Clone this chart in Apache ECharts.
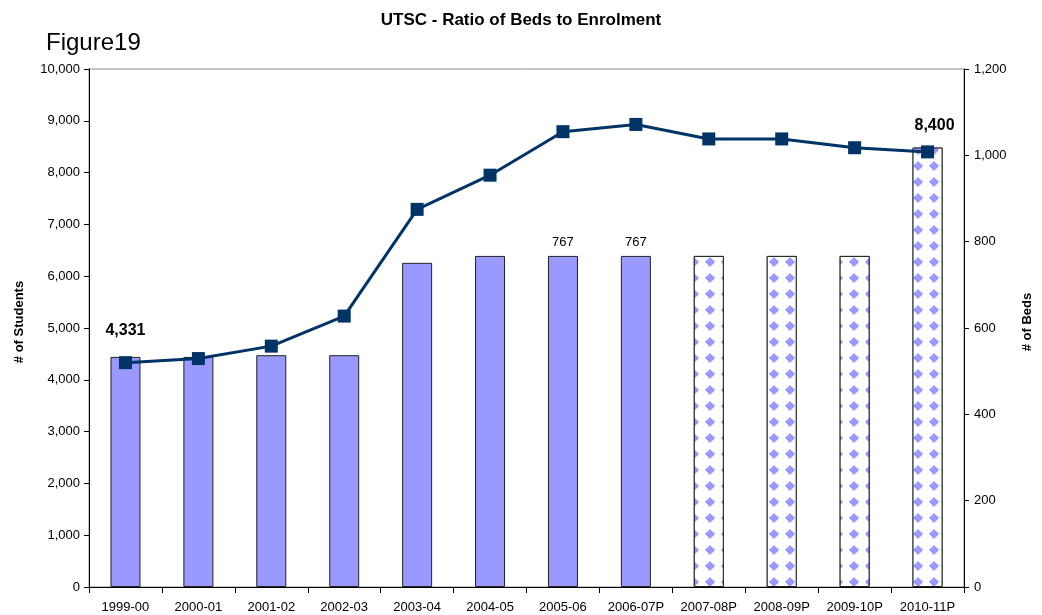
<!DOCTYPE html>
<html>
<head>
<meta charset="utf-8">
<script src="https://cdn.jsdelivr.net/npm/echarts@6/dist/echarts.min.js"></script>
<style>
html, body { margin: 0; padding: 0; background: #fff; }
#main { width: 1042px; height: 615px; }
</style>
</head>
<body>
<div id="main"></div>
<script>
var years = ['1999-00', '2000-01', '2001-02', '2002-03', '2003-04', '2004-05', '2005-06', '2006-07P', '2007-08P', '2008-09P', '2009-10P', '2010-11P'];
// beds (right axis) - actual years solid, projected years patterned
var bedsActual = [533, 533, 537, 537, 751, 767, 767, 767, null, null, null, null];
var bedsProjected = [null, null, null, null, null, null, null, null, 767, 767, 767, 1018];
// enrolment (left axis)
var students = [4331, 4410, 4650, 5230, 7290, 7950, 8790, 8930, 8650, 8650, 8480, 8400];

var font = 'Liberation Sans, Arial, sans-serif';

var actualData = bedsActual.map(function(v, i) {
	if (i === 6 || i === 7) {
		return { value: v, label: { show: true, position: 'top', distance: 7, color: '#000', fontSize: 13, fontFamily: font } };
	}
	return v;
});

var lineData = students.map(function(v, i) {
	if (i === 0 || i === students.length - 1) {
		return {
			value: v,
			label: {
				show: true, position: 'top', distance: i === 0 ? 18 : 12,
				fontSize: 16, fontWeight: 'bold', color: '#000', fontFamily: font,
				offset: [i === 0 ? 0 : 7, 0],
				formatter: function(p) { return p.value.toLocaleString('en-US'); }
			}
		};
	}
	return v;
});

var chart = echarts.init(document.getElementById('main'));

var option = {
	backgroundColor: '#fff',
	animation: false,
	title: [{
		text: 'UTSC - Ratio of Beds to Enrolment',
		left: 'center',
		top: 7,
		textStyle: { fontSize: 17, fontWeight: 'bold', color: '#000', fontFamily: font }
	}, {
		text: 'Figure19',
		left: 41,
		top: 26,
		textStyle: { fontSize: 24, fontWeight: 'normal', color: '#000', fontFamily: font }
	}],
	grid: { left: 89, right: 74, top: 69, bottom: 28, show: true, borderColor: '#888', borderWidth: 1 },
	xAxis: {
		type: 'category',
		data: years,
		axisLine: { lineStyle: { color: '#000', width: 1 } },
		axisTick: { show: true, length: 6, lineStyle: { color: '#000' } },
		axisLabel: { color: '#000', fontSize: 13, fontFamily: font, margin: 14, interval: 0 }
	},
	yAxis: [{
		type: 'value',
		min: 0, max: 10000, interval: 1000,
		name: '# of Students',
		nameLocation: 'middle',
		nameRotate: 90,
		nameGap: 63,
		nameTextStyle: { fontSize: 13, fontWeight: 'bold', color: '#000', fontFamily: font, padding: [0, 0, 0, 12] },
		axisLine: { show: true, lineStyle: { color: '#000' } },
		axisTick: { show: true, length: 5, lineStyle: { color: '#000' } },
		splitLine: { show: false },
		axisLabel: {
			color: '#000', fontSize: 13, fontFamily: font, margin: 9,
			formatter: function(v) { return v.toLocaleString('en-US'); }
		}
	}, {
		type: 'value',
		min: 0, max: 1200, interval: 200,
		name: '# of Beds',
		nameLocation: 'middle',
		nameRotate: 90,
		nameGap: 57,
		nameTextStyle: { fontSize: 13, fontWeight: 'bold', color: '#000', fontFamily: font, padding: [0, 0, 0, 12] },
		axisLine: { show: true, lineStyle: { color: '#000' } },
		axisTick: { show: true, length: 5, lineStyle: { color: '#000' } },
		splitLine: { show: false },
		axisLabel: {
			color: '#000', fontSize: 13, fontFamily: font, margin: 10,
			formatter: function(v) { return v.toLocaleString('en-US'); }
		}
	}],
	series: [{
		name: 'Beds',
		type: 'bar',
		yAxisIndex: 1,
		barWidth: 30,
		barGap: '-100%',
		data: actualData,
		itemStyle: { color: '#9999FF', borderColor: '#222', borderWidth: 1 }
	}, {
		name: 'Beds (projected)',
		type: 'bar',
		yAxisIndex: 1,
		barWidth: 30,
		barGap: '-100%',
		data: bedsProjected,
		itemStyle: {
			color: '#fff',
			borderColor: '#222',
			borderWidth: 1,
			decal: {
				symbol: 'diamond',
				symbolSize: 0.85,
				color: '#9999FF',
				backgroundColor: '#fff',
				dashArrayX: [12, 4],
				dashArrayY: [12, 4]
			}
		}
	}, {
		name: 'Students',
		type: 'line',
		yAxisIndex: 0,
		data: lineData,
		symbol: 'rect',
		symbolSize: 13,
		lineStyle: { color: '#003366', width: 3 },
		itemStyle: { color: '#003366' },
		z: 5
	}]
};

chart.setOption(option);
</script>
</body>
</html>
